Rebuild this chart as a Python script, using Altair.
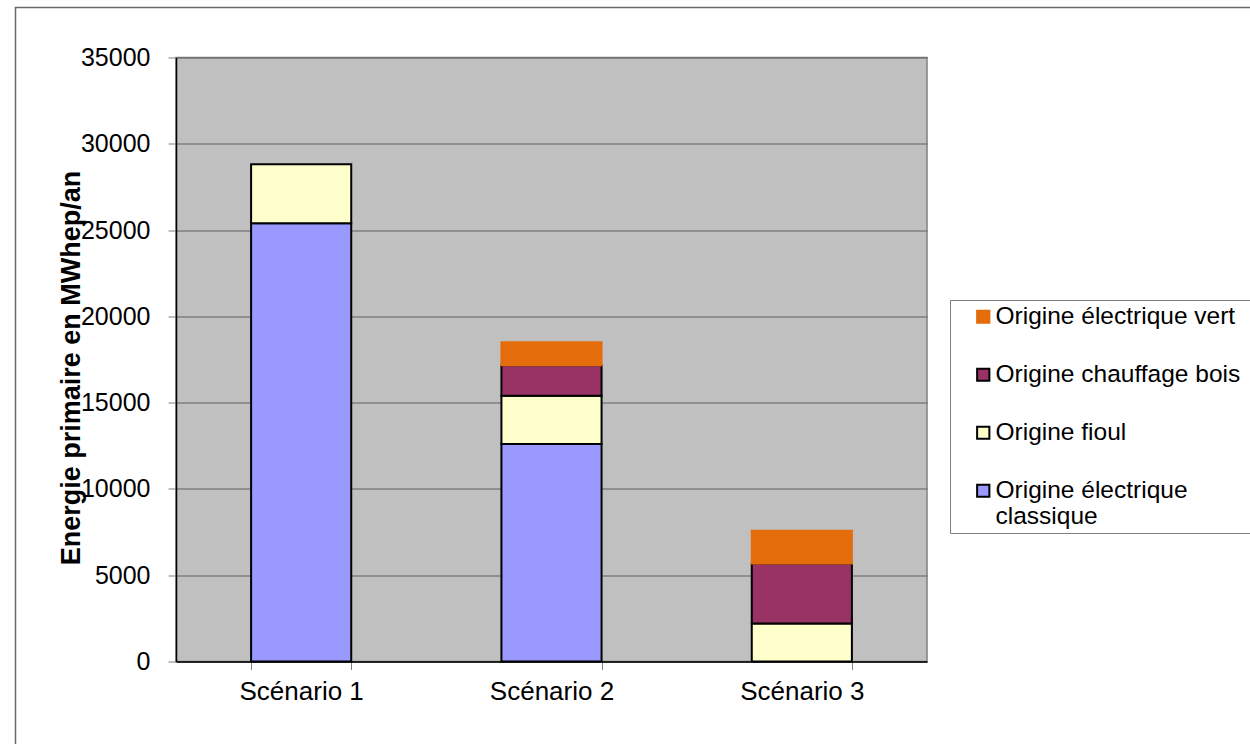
import altair as alt
import pandas as pd

scenarios = ["Scénario 1", "Scénario 2", "Scénario 3"]
sources = ["Origine électrique classique", "Origine fioul",
           "Origine chauffage bois", "Origine électrique vert"]
classique = [25400, 12600, 0]
fioul = [3420, 2795, 2207]
bois = [0, 1775, 3476]
vert = [0, 1335, 1891]

legend_order = ["Origine électrique vert", "Origine chauffage bois",
                "Origine fioul", "Origine électrique classique"]
fill_colors = ["#E46C0A", "#993366", "#FFFFCC", "#9999FF"]
stroke_colors = ["#E46C0A", "#000000", "#000000", "#000000"]
y_ticks = [0, 5000, 10000, 15000, 20000, 25000, 30000, 35000]

rows = []
for i, sc in enumerate(scenarios):
    for k, vals in enumerate([classique, fioul, bois, vert]):
        if vals[i] > 0:
            rows.append({"scenario": sc, "source": sources[k],
                         "value": vals[i], "rank": k})
df = pd.DataFrame(rows)

FONT = "Liberation Sans"

leg = alt.Legend(
    title=None, orient="none", legendX=795, legendY=247,
    symbolType="square", symbolSize=150, symbolStrokeWidth=2,
    labelFont=FONT, labelFontSize=24.5, labelColor="#000000",
    labelOffset=0, rowPadding=33, padding=0, labelLimit=400,
    labelExpr="datum.label == 'Origine électrique classique' ? ['Origine électrique', 'classique'] : datum.label",
)

bars = alt.Chart(df).mark_bar(strokeWidth=2).encode(
    x=alt.X("scenario:N", sort=scenarios, title=None,
            scale=alt.Scale(paddingInner=0.6, paddingOuter=0.3),
            axis=alt.Axis(labelAngle=0, tickBand="extent", grid=False,
                          labelFont=FONT, labelFontSize=26, labelColor="#000000",
                          labelPadding=9, tickSize=8, tickColor="#808080",
                          domainColor="#000000", domainWidth=1.5)),
    y=alt.Y("value:Q", stack="zero",
            scale=alt.Scale(domain=[0, 35000], nice=False),
            axis=alt.Axis(values=y_ticks, format="d",
                          title="Energie primaire en MWhep/an",
                          titleFont=FONT, titleFontSize=27, titleFontWeight="bold",
                          titleColor="#000000", titleX=-105, titleY=310,
                          titleAlign="center", titleBaseline="middle", titleAngle=270,
                          labelFont=FONT, labelFontSize=25, labelColor="#000000",
                          labelPadding=18, tickSize=8, tickColor="#808080",
                          domainColor="#000000", domainWidth=1.5,
                          grid=True, gridColor="#5f5f5f", gridWidth=1)),
    color=alt.Color("source:N", scale=alt.Scale(domain=legend_order, range=fill_colors),
                    legend=leg),
    stroke=alt.Stroke("source:N", scale=alt.Scale(domain=legend_order, range=stroke_colors),
                      legend=leg),
    order=alt.Order("rank:Q"),
)

one = alt.Data(values=[{"k": 1}])

frame = alt.Chart(one).mark_rect(filled=False, stroke="#808080", strokeWidth=1).encode(
    x=alt.value(774.5), x2=alt.value(1110), y=alt.value(243), y2=alt.value(476)
)
outer = alt.Chart(one).mark_rect(filled=False, stroke="#6a6a6a", strokeWidth=1.5).encode(
    x=alt.value(-160.5), x2=alt.value(1200), y=alt.value(-50), y2=alt.value(800)
)

chart = alt.layer(outer, bars, frame).properties(
    width=751, height=604,
    autosize=alt.AutoSizeParams(type="none"),
    padding={"left": 176, "top": 57.5, "right": 323, "bottom": 82.5},
    background="#FFFFFF",
).configure_view(fill="#C0C0C0", stroke="#808080", strokeWidth=1.5)

chart.save("out.html", embed_options={"renderer": "svg", "actions": False})
